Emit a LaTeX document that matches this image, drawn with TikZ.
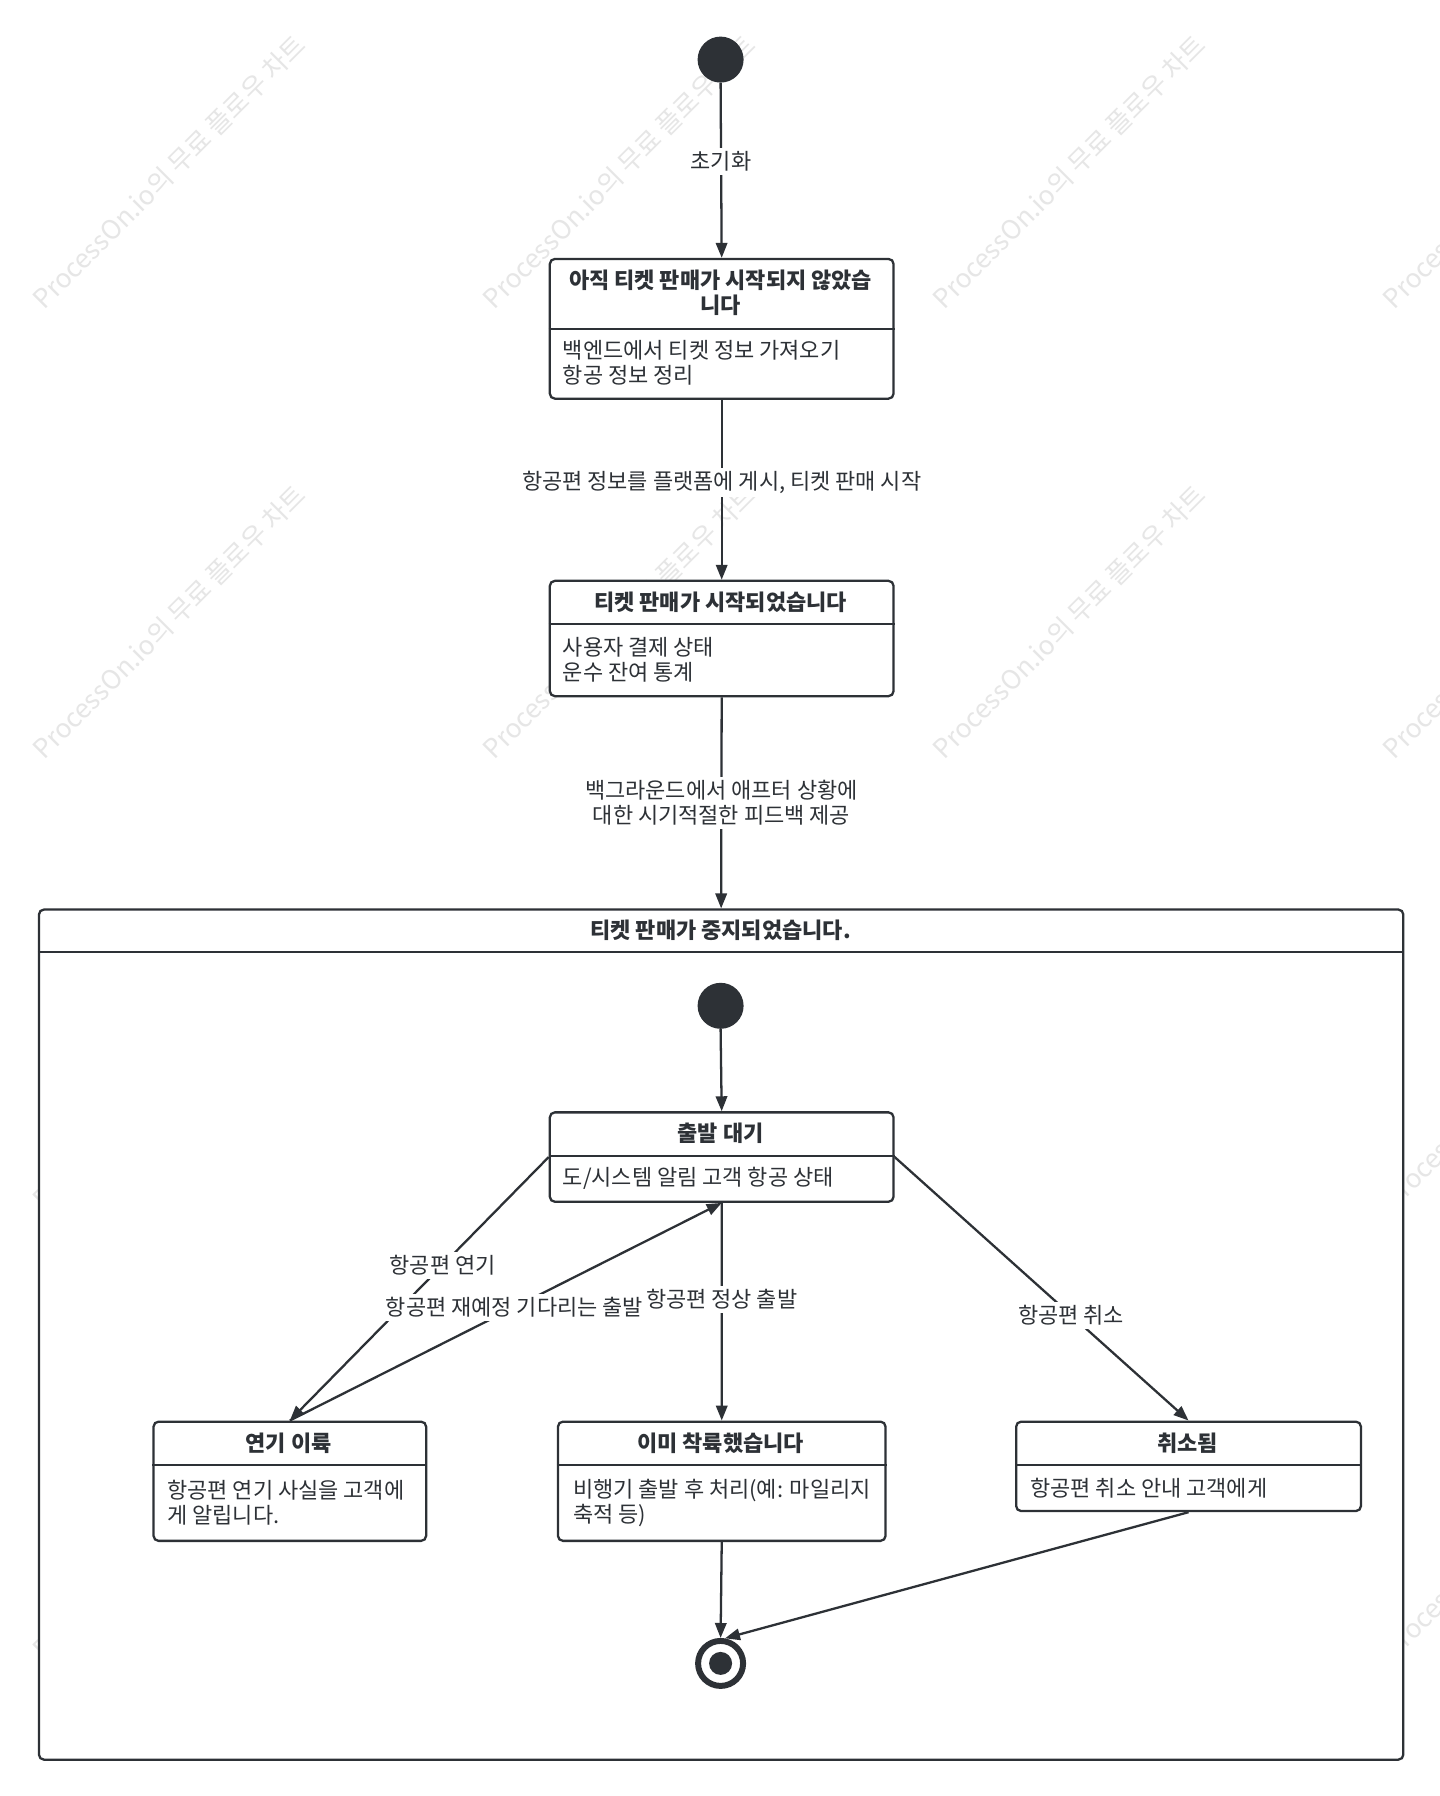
\documentclass[tikz,border=0pt]{standalone}
\usepackage{fontspec}
\setmainfont{Noto Sans CJK KR}
\usepackage{xcolor}
\usepackage{tikz}
\usetikzlibrary{arrows.meta}
\definecolor{inkc}{RGB}{45,49,54}
\definecolor{wmc}{RGB}{230,230,230}
\newcommand{\px}{0.02cm}

\begin{document}
\begin{tikzpicture}[x=\px, y=-\px,
  every node/.style={font=\fontsize{12.5}{14.4}\selectfont, text=inkc},
  stbox/.style={draw=inkc, line width=1.3pt, rounded corners=0.1cm, fill=white, inner sep=0pt},
  stline/.style={draw=inkc, line width=1.3pt},
  ttl/.style={font=\fontsize{12.5}{14.4}\selectfont\bfseries, inner sep=0pt, align=center},
  txt/.style={inner sep=0pt, anchor=west, align=left},
  lbl/.style={fill=white, inner sep=2pt, align=center},
  tarrow/.style={draw=inkc, line width=1.3pt, -{Triangle[length=8.5pt,width=6.5pt]}},
  startdot/.style={circle, fill=inkc, minimum size=46*\px, inner sep=0pt},
  wm/.style={text=wmc, rotate=45, font=\fontsize{15}{15}\selectfont}]
  \useasboundingbox[fill=white] (0,0) rectangle (1440,1796);

  \foreach \i in {0,...,3}{
    \foreach \j in {0,...,3}{
      \node[wm] (wm-\i-\j) at (169+\i*450,172+\j*450) {ProcessOn.io의 무료 플로우 차트};
    }
  }

  \node[stbox, anchor=north west, minimum width={(1402.2-37.8)*\px},
        minimum height={(1758.5-908.4)*\px}] (stop) at (37.8,908.4) {};
  \draw[stline] (stop.west |- 0,952) -- (stop.east |- 0,952);
  \node[ttl] (stop-t) at (720.6,930) {티켓 판매가 중지되었습니다.};

  \foreach \n/\l/\t/\r/\d/\b in {s1/548.7/257.8/892.4/328.8/397.5,
                                 s2/548.7/579.7/892.4/624.3/695,
                                 wait/548.7/1111.2/892.4/1155.9/1200.6,
                                 delay/152.4/1420.5/425/1465.2/1539.7,
                                 landed/556.8/1420.5/884.4/1465.2/1539.7,
                                 cancel/1015/1420.5/1359.8/1465.2/1509.9}{
    \node[stbox, anchor=north west, minimum width={(\r-\l)*\px},
          minimum height={(\b-\t)*\px}] (\n) at (\l,\t) {};
    \draw[stline] (\n.west |- 0,\d) -- (\n.east |- 0,\d);
  }

  \foreach \n/\x/\y/\s in {s1/720.6/293/{아직 티켓 판매가 시작되지 않았습\\니다},
                           s2/720.6/602/{티켓 판매가 시작되었습니다},
                           wait/720.6/1133.5/{출발 대기},
                           delay/288.7/1443/{연기 이륙},
                           landed/720.6/1443/{이미 착륙했습니다},
                           cancel/1187.4/1443/{취소됨}}{
    \node[ttl] (\n-t) at (\x,\y) {\s};
  }

  \foreach \n/\x/\y/\s in {s1/562.5/363/{백엔드에서 티켓 정보 가져오기\\항공 정보 정리},
                           s2/562.5/660/{사용자 결제 상태\\운수 잔여 통계},
                           wait/562.5/1178/{도/시스템 알림 고객 항공 상태},
                           delay/167/1503/{항공편 연기 사실을 고객에\\게 알립니다.},
                           landed/572.8/1503/{비행기 출발 후 처리(예: 마일리지\\축적 등)},
                           cancel/1030/1488/{항공편 취소 안내 고객에게}}{
    \node[txt] (\n-b) at (\x,\y) {\s};
  }

  \node[startdot] (init) at (720.6,59.6) {};
  \node[startdot] (init2) at (720.6,1005.8) {};
  \node[circle, draw=inkc, line width=3.4pt, fill=white, minimum size=45*\px,
        inner sep=0pt] (final) at (720.6,1663.4) {};
  \node[circle, fill=inkc, minimum size=23*\px, inner sep=0pt] (final-in) at (final) {};

  \draw[tarrow] (init.south) -- node[lbl, pos=0.45] (e1) {초기화} (s1.north);
  \draw[tarrow] (s1.south) -- node[lbl, pos=0.46] (e2) {항공편 정보를 플랫폼에 게시, 티켓 판매 시작} (s2.north);
  \draw[tarrow] (s2.south) -- node[lbl, pos=0.5] (e3) {백그라운드에서 애프터 상황에\\대한 시기적절한 피드백 제공} (stop.north);
  \draw[tarrow] (init2.south) -- (wait.north);
  \draw[tarrow] (wait.west) -- node[lbl, pos=0.41] (e5) {항공편 연기} (delay.north);
  \draw[tarrow] (delay.north) -- node[lbl, pos=0.52] (e6) {항공편 재예정 기다리는 출발} (wait.south);
  \draw[tarrow] (wait.south) -- node[lbl, pos=0.443] (e7) {항공편 정상 출발} (landed.north);
  \draw[tarrow] (wait.east) -- node[lbl, pos=0.6] (e8) {항공편 취소} (cancel.north);
  \draw[tarrow] (landed.south) -- (final.north);
  \draw[tarrow] (cancel.south) -- (final.80);
\end{tikzpicture}
\end{document}
